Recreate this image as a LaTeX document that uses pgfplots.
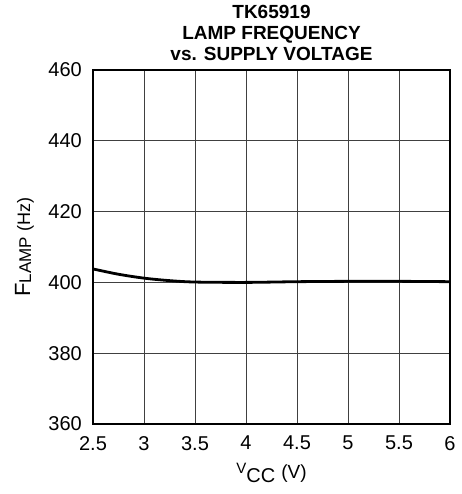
\documentclass[border=0pt]{standalone}
\usepackage{pgfplots}
\pgfplotsset{compat=1.18}
\usepackage{fontspec}
\setmainfont{Liberation Sans}
\begin{document}
\begin{tikzpicture}[x=1pt,y=1pt]
\useasboundingbox (0,0) rectangle (461,494);
\begin{axis}[
  at={(93pt,70pt)}, anchor=south west,
  scale only axis, width=357pt, height=354pt,
  xmin=2.5, xmax=6, ymin=360, ymax=460,
  xtick={2.5,3,...,6}, ytick={360,380,...,460},
  xticklabels={2.5,3,3.5,4,4.5,5,5.5,6},
  yticklabels={360,380,400,420,440,460},
  tick style={draw=none},
  grid=major, major grid style={black!75, line width=0.9pt},
  axis line style={line width=2.6pt},
  ticklabel style={font=\fontsize{20}{20}\selectfont, inner sep=0pt},
  yticklabel style={anchor=east, xshift=-11pt},
  xticklabel style={anchor=north, yshift=-12pt},
  xlabel={\raisebox{5pt}{\fontsize{15}{15}\selectfont V}\raisebox{-4pt}{\fontsize{20}{20}\selectfont CC}\hspace{6pt}\fontsize{19}{19}\selectfont(V)},
  xlabel style={at={(0.5,0)}, anchor=north, inner sep=0pt, yshift=-39pt},
  ylabel={{\fontsize{22}{22}\selectfont F}\raisebox{-1pt}{\fontsize{17}{17}\selectfont LAMP}\hspace{6pt}\fontsize{18}{18}\selectfont(Hz)},
  ylabel style={at={(0,0.5)}, anchor=south, inner sep=0pt, yshift=59pt},
  title={TK65919\\LAMP FREQUENCY\\vs. SUPPLY VOLTAGE},
  title style={font=\bfseries\fontsize{19}{21}\selectfont, align=center, at={(0.5,1)}, anchor=south, inner sep=0pt, yshift=3pt},
  /pgf/number format/assume math mode=true,
]
\addplot[black, line width=2.8pt, smooth] coordinates {
(2.5,403.8) (2.75,402.3) (3,401.2) (3.25,400.5) (3.5,400.1) (4,400.0) (4.5,400.2) (5,400.3) (5.5,400.3) (6,400.2)
};
\end{axis}
\end{tikzpicture}
\end{document}
